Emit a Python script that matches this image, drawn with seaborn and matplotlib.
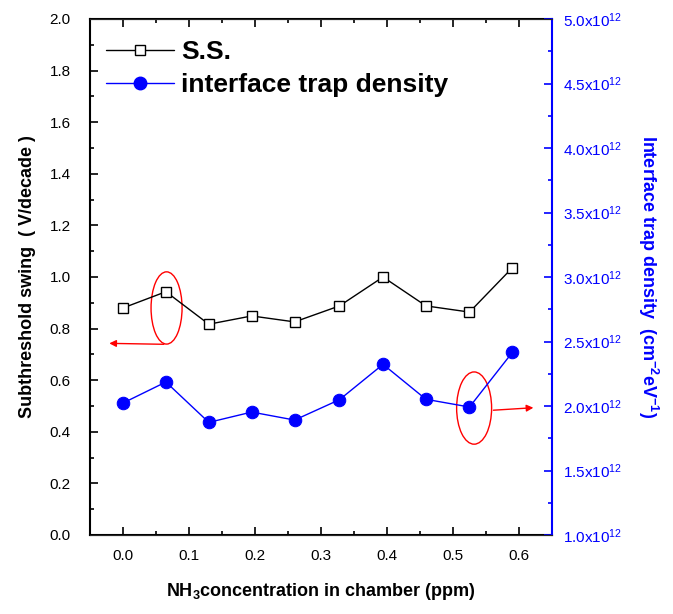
import matplotlib
matplotlib.use("Agg")
import matplotlib.pyplot as plt
import seaborn as sns
import numpy as np
from matplotlib.patches import Ellipse
from matplotlib.lines import Line2D
from matplotlib.ticker import MultipleLocator, FixedLocator

sns.set_style("ticks")
plt.rcParams['font.family'] = ['Liberation Sans', 'DejaVu Sans']
plt.rcParams['mathtext.fontset'] = 'custom'
plt.rcParams['mathtext.rm'] = 'Liberation Sans'
plt.rcParams['mathtext.bf'] = 'Liberation Sans:bold'
plt.rcParams['text.color'] = 'black'
plt.rcParams['axes.labelcolor'] = 'black'
plt.rcParams['xtick.color'] = 'black'
plt.rcParams['ytick.color'] = 'black'

nh3_ppm = [0.0, 0.065, 0.13, 0.195, 0.26, 0.328, 0.394, 0.459, 0.525, 0.59]
ss_values = [0.88, 0.943, 0.817, 0.849, 0.826, 0.888, 1.000, 0.888, 0.864, 1.036]
dit_values = [2.023, 2.186, 1.873, 1.953, 1.891, 2.049, 2.323, 2.052, 1.992, 2.416]  # x1e12
right_ticks = [1.0, 1.5, 2.0, 2.5, 3.0, 3.5, 4.0, 4.5, 5.0]
right_labels = [r'$\mathregular{%.1fx10^{12}}$' % v for v in right_ticks]

fig = plt.figure(figsize=(6.73, 6.14), dpi=100)
ax = fig.add_axes([90/673, 1-535/614, (552-90)/673, (535-19)/614])
ax2 = ax.twinx()

sns.lineplot(x=nh3_ppm, y=ss_values, ax=ax, color='black', lw=1.0, marker='s',
             markersize=7, markerfacecolor='white', markeredgecolor='black',
             markeredgewidth=1.0)
sns.lineplot(x=nh3_ppm, y=dit_values, ax=ax2, color='blue', lw=1.0, marker='o',
             markersize=9, markerfacecolor='blue', markeredgecolor='blue')

ax.set_xlim(-0.05, 0.65)
ax.set_ylim(0, 2.0)
ax2.set_ylim(1.0, 5.0)

ax.xaxis.set_major_locator(MultipleLocator(0.1))
ax.xaxis.set_minor_locator(MultipleLocator(0.05))
ax.yaxis.set_major_locator(MultipleLocator(0.2))
ax.yaxis.set_minor_locator(MultipleLocator(0.1))
ax2.yaxis.set_major_locator(FixedLocator(right_ticks))
ax2.yaxis.set_minor_locator(MultipleLocator(0.25))
ax2.set_yticklabels(right_labels)

ax.set_xticklabels(['%.1f' % v for v in ax.get_xticks()])

ax.tick_params(axis='both', which='both', direction='in', top=True, right=False,
               labelsize=11, width=1.2)
ax.tick_params(which='major', length=6)
ax.tick_params(which='minor', length=3)
ax.tick_params(axis='x', pad=10)
ax.tick_params(axis='y', pad=14)
ax2.tick_params(axis='y', which='both', direction='in', colors='blue', labelsize=11, width=1.2, pad=8)
ax2.tick_params(which='major', length=6)
ax2.tick_params(which='minor', length=3)

for s in ['left', 'bottom', 'top']:
    ax.spines[s].set_linewidth(1.5)
    ax.spines[s].set_color('black')
ax2.spines['right'].set_color('blue')
ax2.spines['right'].set_linewidth(1.5)
ax2.spines['left'].set_visible(False)
ax.spines['right'].set_visible(False)

ax.set_xlabel(r'NH$_\mathbf{3}$concentration in chamber (ppm)', fontsize=13, fontweight='bold', labelpad=13)
ax.set_ylabel('Subthreshold swing  ( V/decade )', fontsize=13, fontweight='bold', labelpad=10)
ax2.set_ylabel(r'Interface trap density  (cm$^\mathbf{-2}$eV$^\mathbf{-1}$)', fontsize=13,
               fontweight='bold', color='blue', rotation=270, labelpad=27)

# annotations
ax.add_patch(Ellipse((0.066, 0.88), 0.047, 0.28, fill=False, edgecolor='red', lw=1.0))
ax.annotate('', xy=(-0.025, 0.743), xytext=(0.066, 0.739),
            arrowprops=dict(arrowstyle='-|>', color='red', lw=1.0, mutation_scale=10))
ax.add_patch(Ellipse((0.532, 0.492), 0.053, 0.28, fill=False, edgecolor='red', lw=1.0))
ax.annotate('', xy=(0.626, 0.494), xytext=(0.557, 0.483),
            arrowprops=dict(arrowstyle='-|>', color='red', lw=1.0, mutation_scale=10))

handles = [Line2D([], [], color='black', lw=1.0, marker='s', markersize=7,
                  markerfacecolor='white', markeredgecolor='black'),
           Line2D([], [], color='blue', lw=1.0, marker='o', markersize=9,
                  markerfacecolor='blue')]
leg = ax.legend(handles, ['S.S.', 'interface trap density'], loc='upper left', frameon=False,
                prop={'weight': 'bold', 'size': 19}, handlelength=2.6, borderaxespad=0.4,
                handletextpad=0.25, labelspacing=0.35, bbox_to_anchor=(-0.012, 1.0))
for t in leg.get_texts():
    t.set_color('black')

fig.savefig('out.png', dpi=100)
